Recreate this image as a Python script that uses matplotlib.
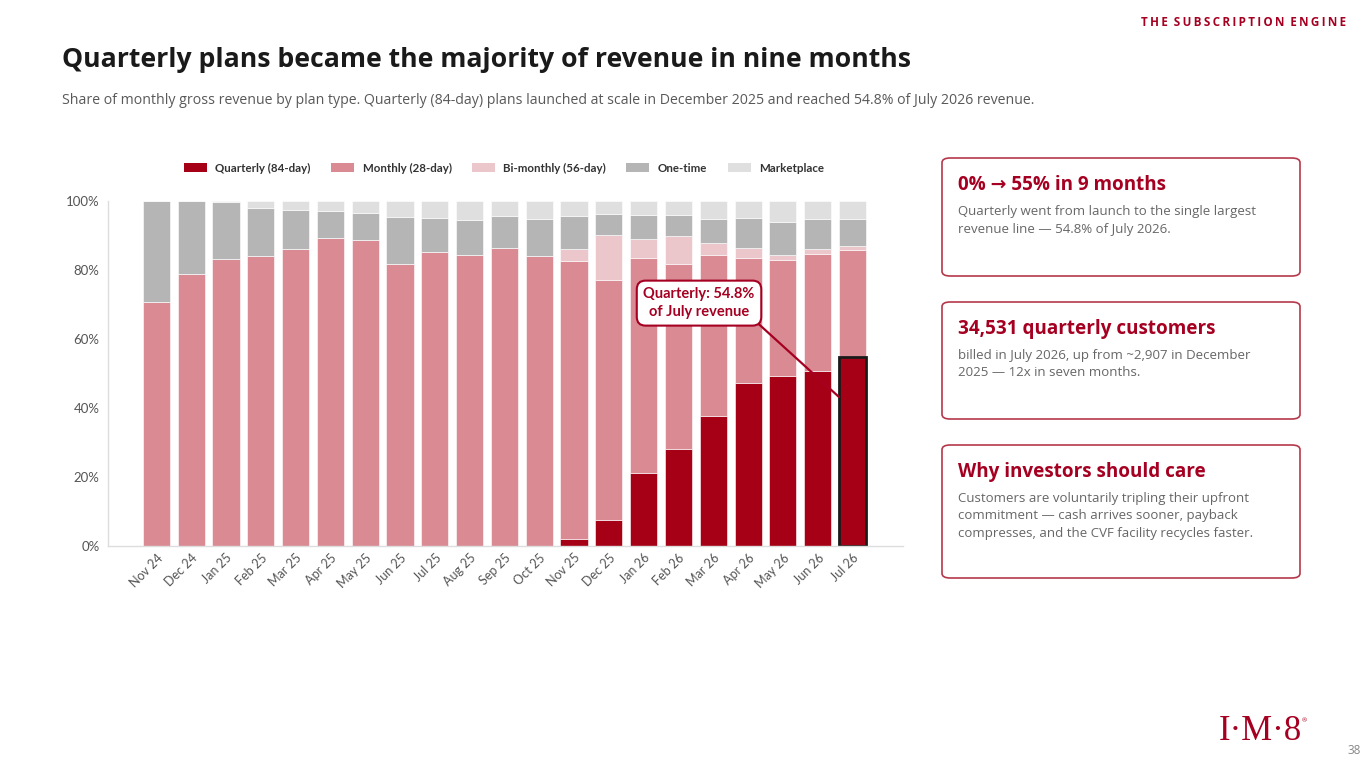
import matplotlib
matplotlib.use("Agg")
import matplotlib.pyplot as plt
from matplotlib.patches import Patch, FancyBboxPatch
import numpy as np

W, H = 1365, 768

months = ["Nov 24", "Dec 24", "Jan 25", "Feb 25", "Mar 25", "Apr 25", "May 25",
          "Jun 25", "Jul 25", "Aug 25", "Sep 25", "Oct 25", "Nov 25", "Dec 25",
          "Jan 26", "Feb 26", "Mar 26", "Apr 26", "May 26", "Jun 26", "Jul 26"]
quarterly = [0, 0, 0, 0, 0, 0, 0, 0, 0, 0, 0, 0,
             2.0, 7.5, 21.3, 28.2, 37.6, 47.2, 49.4, 50.8, 54.8]
monthly = [70.8, 78.7, 83.1, 84.2, 86.2, 89.2, 88.6, 81.7, 85.3, 84.3, 86.5, 84.2,
           80.6, 69.7, 62.2, 53.5, 46.7, 36.2, 33.6, 33.9, 31.0]
bimonthly = [0, 0, 0, 0, 0, 0, 0, 0, 0, 0, 0, 0,
             3.5, 12.9, 5.5, 8.3, 3.5, 3.0, 1.3, 1.5, 1.3]
one_time = [29.2, 21.3, 16.7, 13.9, 11.3, 8.0, 8.0, 13.8, 9.8, 10.3, 9.2, 10.6,
            9.6, 6.1, 7.0, 6.0, 7.0, 8.7, 9.7, 8.5, 7.7]
marketplace = [0, 0, 0.2, 1.9, 2.5, 2.8, 3.4, 4.5, 4.9, 5.4, 4.3, 5.2,
               4.3, 3.8, 4.0, 4.0, 5.2, 4.9, 6.0, 5.3, 5.2]

series = [
    ("Quarterly (84-day)", quarterly, "#A50016"),
    ("Monthly (28-day)", monthly, "#D98A93"),
    ("Bi-monthly (56-day)", bimonthly, "#EBC6CB"),
    ("One-time", one_time, "#B5B5B5"),
    ("Marketplace", marketplace, "#DFDFDF"),
]

RED = "#A50021"
SANS = ["Open Sans", "DejaVu Sans"]
CHART = ["Lato", "DejaVu Sans"]


def fx(px):
    return px / W


def fy(py):
    return 1 - py / H


fig = plt.figure(figsize=(W / 100, H / 100), dpi=100)
fig.patch.set_facecolor("white")

# header text
fig.text(fx(62), fy(60), "Quarterly plans became the majority of revenue in nine months",
         family=SANS, fontsize=19.2, fontweight="bold", color="#1a1a1a", va="center")
fig.text(fx(62), fy(101),
         "Share of monthly gross revenue by plan type. Quarterly (84-day) plans launched at "
         "scale in December 2025 and reached 54.8% of July 2026 revenue.",
         family=SANS, fontsize=10.15, color="#595959", va="center")
fig.text(fx(1346), fy(22), "  ".join(["\u2009".join(w) for w in "THE SUBSCRIPTION ENGINE".split()]),
         family=SANS, fontsize=8.4, fontweight="bold", color=RED, ha="right", va="center")

# chart
ax = fig.add_axes([fx(108), fy(546), fx(903) - fx(108), (546 - 201) / H])
x = np.arange(len(months))
bottom = np.zeros(len(months))
for name, vals, col in series:
    vals = np.array(vals)
    ax.bar(x, vals, bottom=bottom, width=0.78, color=col, label=name,
           edgecolor="white", linewidth=0.4)
    bottom += vals

# highlight July quarterly
ax.bar(x[-1], quarterly[-1], width=0.78, color="none", edgecolor="#1a1a1a", linewidth=2)

ax.set_xlim(-1.39, 21.45)
ax.set_ylim(0, 100)
ax.set_yticks([0, 20, 40, 60, 80, 100])
ax.set_yticklabels([f"{v}%" for v in [0, 20, 40, 60, 80, 100]],
                   family=CHART, fontsize=9.5, color="#555555")
ax.set_xticks(x)
ax.set_xticklabels(months, rotation=45, ha="right", rotation_mode="anchor",
                   family=CHART, fontsize=9, color="#555555")
ax.tick_params(axis="both", length=0, pad=6)
ax.tick_params(axis="x", pad=4)
for s in ["top", "right"]:
    ax.spines[s].set_visible(False)
for s in ["left", "bottom"]:
    ax.spines[s].set_color("#dddddd")
    ax.spines[s].set_linewidth(1)

handles = [Patch(facecolor=c, label=n) for n, _, c in series]
fig.legend(handles=handles, loc="center", bbox_to_anchor=(fx(504), fy(168)), ncol=5,
           frameon=False, prop={"family": CHART, "size": 8.3, "weight": "bold"},
           handlelength=2.0, handleheight=0.7, handletextpad=0.75, columnspacing=1.75,
           labelcolor="#333333")

ax.annotate("Quarterly: 54.8%\nof July revenue", xy=(19.61, 43.2), xytext=(15.59, 70.4),
            textcoords="data", ha="center", va="center", family=CHART, fontsize=10.5,
            fontweight="bold", color=RED, linespacing=1.35,
            bbox=dict(boxstyle="round,pad=0.45,rounding_size=0.6", fc="white", ec=RED, lw=1.5),
            arrowprops=dict(arrowstyle="-", color=RED, lw=1.6, relpos=(0.98, 0.02),
                            shrinkA=0, shrinkB=0))

# cards
cards = [
    (158, 276, "0% \u2192 55% in 9 months",
     "Quarterly went from launch to the single largest\nrevenue line \u2014 54.8% of July 2026."),
    (302, 419, "34,531 quarterly customers",
     "billed in July 2026, up from ~2,907 in December\n2025 \u2014 12x in seven months."),
    (445, 578, "Why investors should care",
     "Customers are voluntarily tripling their upfront\ncommitment \u2014 cash arrives sooner, payback\n"
     "compresses, and the CVF facility recycles faster."),
]
for top, bot, head, body in cards:
    box = FancyBboxPatch((fx(942), fy(bot)), fx(1300) - fx(942), (bot - top) / H,
                         boxstyle="round,pad=0,rounding_size=0.006",
                         transform=fig.transFigure, fc="white", ec="#B5384A", lw=1.2)
    fig.patches.append(box)
    fig.text(fx(958), fy(top + 27), head, family=SANS, fontsize=13.6, fontweight="bold",
             color=RED, va="center")
    fig.text(fx(958), fy(top + 47), body, family=SANS, fontsize=9.5, color="#666666",
             va="top", linespacing=1.45)

# logo and page number
fig.text(fx(1260), fy(731), "I\u00b7M\u00b78", family=["Liberation Serif", "DejaVu Serif"],
         fontsize=25, color=RED, ha="center", va="center")
fig.text(fx(1304), fy(721), "\u00ae", family=SANS, fontsize=4.5, color=RED, ha="center", va="center")
fig.text(fx(1361), fy(750), "38", family=SANS, fontsize=8.5, color="#888888", ha="right", va="center")

fig.savefig("out.png", dpi=100, facecolor="white")
